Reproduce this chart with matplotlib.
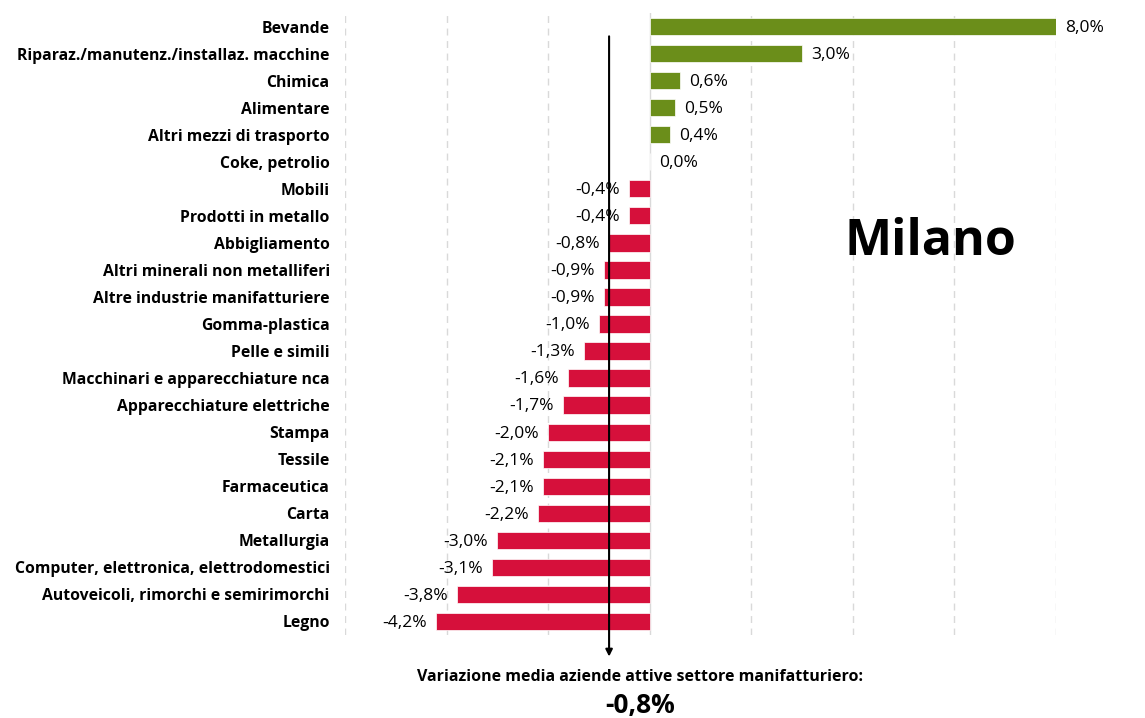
import matplotlib.pyplot as plt
import numpy as np

plt.rcParams['font.family'] = ['Open Sans', 'DejaVu Sans']

# Dati
settori = ["Bevande", "Riparaz./manutenz./installaz. macchine", "Chimica", "Alimentare",
           "Altri mezzi di trasporto", "Coke, petrolio", "Mobili", "Prodotti in metallo",
           "Abbigliamento", "Altri minerali non metalliferi", "Altre industrie manifatturiere",
           "Gomma-plastica", "Pelle e simili", "Macchinari e apparecchiature nca",
           "Apparecchiature elettriche", "Stampa", "Tessile", "Farmaceutica", "Carta",
           "Metallurgia", "Computer, elettronica, elettrodomestici",
           "Autoveicoli, rimorchi e semirimorchi", "Legno"]
variazioni = [8.0, 3.0, 0.6, 0.5, 0.4, 0.0, -0.4, -0.4, -0.8, -0.9, -0.9, -1.0, -1.3,
              -1.6, -1.7, -2.0, -2.1, -2.1, -2.2, -3.0, -3.1, -3.8, -4.2]
media = -0.8

verde = '#6B8E1A'
rosso = '#D6103B'

fig = plt.figure(figsize=(11.45, 7.18), dpi=100)
ax = fig.add_axes([345/1145, 1 - 635/718, (1056-345)/1145, (635-13)/718])

y = np.arange(len(settori))
colori = [verde if v > 0 else rosso for v in variazioni]
ax.barh(y, variazioni, height=0.64, color=colori, edgecolor='white', linewidth=0.5, zorder=3)

ax.set_xlim(-6, 8)
ax.set_ylim(len(settori) - 0.5, -0.5)
ax.set_yticks(y)
ax.set_yticklabels(settori, fontsize=11.3, fontweight='bold')
ax.tick_params(axis='y', length=0, pad=11)
ax.set_xticks([])

# griglia verticale
for g in [-6, -4, -2, 2, 4, 6, 8]:
    ax.axvline(g, color='#D9D9D9', linestyle=(0, (5, 4)), linewidth=1, zorder=1)
ax.axvline(0, color='#D9D9D9', linewidth=1, zorder=1)

for s in ax.spines.values():
    s.set_visible(False)

# etichette
for yi, v in zip(y, variazioni):
    testo = f"{v:.1f}%".replace('.', ',')
    if v >= 0:
        ax.text(v + 0.18, yi + 0.05, testo, va='center', ha='left', fontsize=12.5, zorder=5)
    else:
        ax.text(v - 0.18, yi + 0.05, testo, va='center', ha='right', fontsize=12.5, zorder=5)

# freccia media
ax.annotate('', xy=(media, 23.4), xytext=(media, 0.26),
            arrowprops=dict(arrowstyle='-|>', color='black', lw=1.5, mutation_scale=10),
            annotation_clip=False, zorder=6)

fig.text(930/1145, 1 - 242/718, "Milano", fontsize=36, fontweight='bold', ha='center', va='center')
fig.text(640/1145, 1 - 677/718, "Variazione media aziende attive settore manifatturiero:",
         fontsize=11.5, fontweight='bold', ha='center', va='center')
fig.text(640/1145, 1 - 705/718, "-0,8%", fontsize=19, fontweight='bold', ha='center', va='center')

fig.savefig('out.png', dpi=100)
